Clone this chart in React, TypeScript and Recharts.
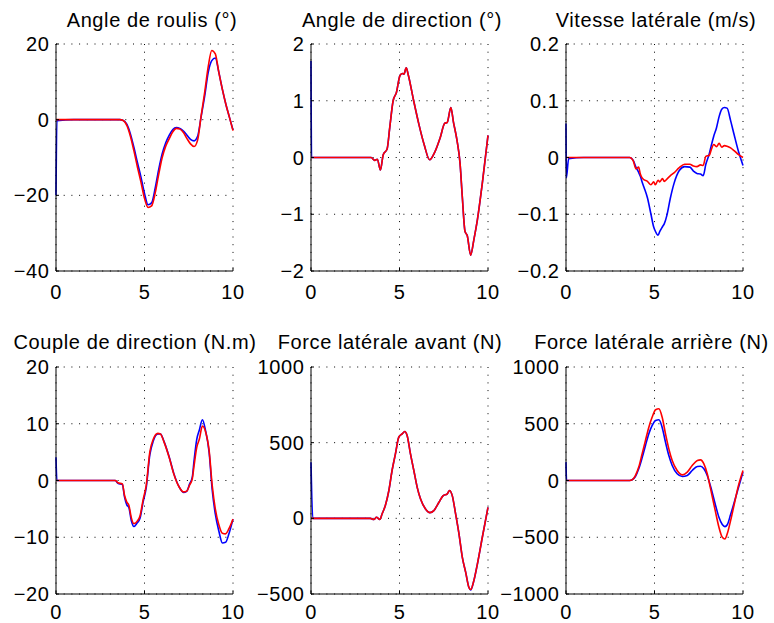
import React from 'react';
import { LineChart, Line, XAxis, YAxis, CartesianGrid } from 'recharts';

const FONT = '"Liberation Sans", Arial, Helvetica, sans-serif';

// ---------- Angle de roulis (°) ----------
const rollT = [0, 0.05, 1, 2, 3, 3.6, 3.8, 4.0, 4.2, 4.4, 4.6, 4.8, 5.0, 5.2, 5.4, 5.6, 5.8, 6.0, 6.2, 6.4, 6.6, 6.8, 7.0, 7.2, 7.4, 7.6, 7.8, 8.0, 8.2, 8.4, 8.6, 8.8, 9.0, 9.2, 9.4, 9.6, 9.8, 10];
const rollBlue = [-20, -0.3, 0, 0, 0, 0, -0.2, -1.2, -3.7, -7.3, -11.3, -15.2, -19.5, -22.5, -22, -18.2, -13.2, -9, -6.1, -4.1, -2.6, -2.1, -2.3, -3, -4.1, -5.2, -5.6, -4.4, 0.8, 6.2, 12.5, 15.6, 16.3, 12.5, 8, 4, 0.6, -2.7];
const rollRed = [0, 0, 0, 0, 0, 0, -0.2, -1.5, -4.3, -8.2, -12.5, -16.5, -20.8, -23.2, -22.8, -19.5, -14.5, -10, -7, -5, -3.2, -2.3, -2.5, -3.4, -5, -6.4, -7.1, -5.4, 1, 7.2, 14, 18.3, 17.4, 12.5, 8, 4, 0.6, -2.9];

// ---------- Angle de direction (°) ----------
const steerT = [0, 0.03, 1, 2, 3, 3.4, 3.6, 3.75, 3.92, 4.08, 4.3, 4.45, 4.64, 4.83, 5.02, 5.15, 5.25, 5.38, 5.5, 5.8, 6.1, 6.4, 6.7, 7.0, 7.3, 7.55, 7.7, 7.9, 8.05, 8.25, 8.42, 8.55, 8.7, 8.83, 9.02, 9.2, 9.4, 9.68, 10];
const steerBlue = [1.7, 0, 0, 0, 0, 0, -0.05, -0.03, -0.22, 0.05, 0.15, 0.53, 1.0, 1.15, 1.44, 1.48, 1.47, 1.58, 1.45, 1.0, 0.58, 0.22, -0.04, 0.1, 0.35, 0.6, 0.62, 0.88, 0.62, 0.3, -0.1, -0.7, -1.3, -1.38, -1.72, -1.45, -1.1, -0.45, 0.39];
const steerRed = [0, 0, 0, 0, 0, 0, -0.05, -0.03, -0.22, 0.05, 0.15, 0.53, 1.0, 1.15, 1.44, 1.48, 1.47, 1.58, 1.45, 1.0, 0.58, 0.22, -0.04, 0.1, 0.35, 0.6, 0.62, 0.88, 0.62, 0.3, -0.1, -0.7, -1.3, -1.38, -1.72, -1.45, -1.1, -0.45, 0.39];

// ---------- Vitesse latérale (m/s) ----------
const velT = [0, 0.02, 0.15, 1, 2, 3, 3.6, 3.8, 3.95, 4.1, 4.2, 4.3, 4.4, 4.6, 4.8, 4.95, 5.05, 5.2, 5.3, 5.45, 5.55, 5.7, 5.9, 6.1, 6.4, 6.7, 7.0, 7.2, 7.4, 7.6, 7.75, 7.9, 8.1, 8.2, 8.35, 8.5, 8.65, 8.8, 8.95, 9.1, 9.3, 9.5, 9.75, 10];
const velBlue = [0.06, -0.036, -0.002, 0, 0, 0, 0, -0.005, -0.017, -0.026, -0.033, -0.043, -0.052, -0.071, -0.1, -0.122, -0.13, -0.137, -0.13, -0.122, -0.117, -0.102, -0.071, -0.046, -0.023, -0.016, -0.017, -0.024, -0.028, -0.029, -0.032, -0.012, 0.007, 0.02, 0.038, 0.052, 0.072, 0.085, 0.088, 0.087, 0.065, 0.04, 0.01, -0.014];
const velRed = [0, 0, 0, 0, 0, 0, 0, -0.006, -0.02, -0.017, -0.029, -0.036, -0.039, -0.042, -0.048, -0.043, -0.048, -0.04, -0.043, -0.037, -0.042, -0.038, -0.032, -0.027, -0.018, -0.012, -0.012, -0.015, -0.016, -0.013, -0.014, 0.002, 0.004, 0.013, 0.023, 0.019, 0.025, 0.018, 0.021, 0.02, 0.017, 0.012, 0.005, 0];

// ---------- Couple de direction (N.m) ----------
const torqueT = [0, 0.05, 1, 2, 3, 3.35, 3.5, 3.75, 3.87, 4.0, 4.12, 4.25, 4.4, 4.58, 4.75, 4.92, 5.1, 5.3, 5.5, 5.75, 5.9, 6.1, 6.4, 6.65, 6.95, 7.2, 7.38, 7.55, 7.7, 7.8, 7.95, 8.1, 8.27, 8.45, 8.65, 8.83, 9.0, 9.2, 9.4, 9.58, 9.77, 10];
const torqueBlue = [4.1, 0, 0, 0, 0, 0, -0.5, -0.7, -2.9, -4.3, -4.8, -7, -8.1, -7.5, -6.6, -3.8, -1.2, 4.5, 7, 8.2, 8.2, 6.9, 4.1, 1.3, -1.1, -2.1, -1.9, -0.6, 0.6, 3.5, 7.2, 8.9, 10.7, 8.8, 5, -1.8, -5.9, -8.9, -11, -10.9, -9.4, -6.8];
const torqueRed = [0, 0, 0, 0, 0, 0, -0.4, -0.6, -2.6, -3.8, -4.4, -6.5, -7.6, -7.2, -6.2, -3.4, -0.8, 5, 7.3, 8.3, 8.2, 6.8, 4.0, 1.2, -1.1, -2.0, -1.9, -0.8, 0.3, 2.6, 5.8, 7.3, 9.6, 8.6, 5.3, -1, -5, -7.8, -9.3, -9.4, -8.5, -6.8];

// ---------- Force latérale avant (N) ----------
const frontT = [0, 0.1, 1, 2, 3, 3.36, 3.55, 3.7, 3.89, 4.02, 4.2, 4.4, 4.58, 4.77, 4.96, 5.15, 5.3, 5.43, 5.62, 5.81, 6.0, 6.19, 6.47, 6.72, 6.94, 7.23, 7.47, 7.7, 7.83, 7.98, 8.17, 8.36, 8.55, 8.74, 8.92, 9.02, 9.2, 9.4, 9.68, 10];
const frontBlue = [371, 0, 0, 0, 0, 0, -8, 7, -8, 30, 85, 184, 316, 426, 536, 558, 574, 547, 426, 316, 205, 128, 62, 38, 51, 106, 150, 162, 184, 150, 29, -103, -258, -357, -456, -474, -412, -302, -125, 73];
const frontRed = [0, 0, 0, 0, 0, 0, -8, 7, -8, 30, 85, 184, 316, 426, 536, 558, 574, 547, 426, 316, 205, 128, 62, 38, 51, 106, 150, 162, 184, 150, 29, -103, -258, -357, -456, -470, -412, -302, -125, 73];

// ---------- Force latérale arrière (N) ----------
const rearT = [0, 0.03, 0.3, 1, 2, 3, 3.6, 3.74, 3.92, 4.11, 4.3, 4.49, 4.68, 4.87, 5.06, 5.25, 5.43, 5.62, 5.81, 6.0, 6.28, 6.57, 6.85, 7.13, 7.42, 7.6, 7.79, 7.98, 8.17, 8.45, 8.64, 8.83, 8.98, 9.11, 9.3, 9.49, 9.72, 10];
const rearBlue = [162, 0, 0, 0, 0, 0, 0, 6, 35, 103, 200, 309, 412, 485, 529, 535, 470, 338, 220, 132, 59, 35, 44, 88, 124, 126, 103, 44, -53, -220, -324, -388, -406, -390, -300, -200, -75, 74];
const rearRed = [0, 0, 0, 0, 0, 0, 0, 6, 44, 118, 235, 353, 470, 559, 624, 632, 559, 412, 279, 176, 88, 50, 74, 132, 176, 182, 147, 59, -74, -279, -412, -500, -515, -470, -353, -220, -59, 88];

const xTicks = [0, 5, 10];

const titles = [
  'Angle de roulis (°)',
  'Angle de direction (°)',
  'Vitesse latérale (m/s)',
  'Couple de direction (N.m)',
  'Force latérale avant (N)',
  'Force latérale arrière (N)',
];

const yDomains: [number, number][] = [[-40, 20], [-2, 2], [-0.2, 0.2], [-20, 20], [-500, 1000], [-1000, 1000]];
const yTicks = [
  [-40, -20, 0, 20],
  [-2, -1, 0, 1, 2],
  [-0.2, -0.1, 0, 0.1, 0.2],
  [-20, -10, 0, 10, 20],
  [-500, 0, 500, 1000],
  [-1000, -500, 0, 500, 1000],
];

const series = [
  { t: rollT, blue: rollBlue, red: rollRed },
  { t: steerT, blue: steerBlue, red: steerRed },
  { t: velT, blue: velBlue, red: velRed },
  { t: torqueT, blue: torqueBlue, red: torqueRed },
  { t: frontT, blue: frontBlue, red: frontRed },
  { t: rearT, blue: rearBlue, red: rearRed },
];

// layout
const PLOT_X = [55.5, 310.5, 565.5];
const PLOT_Y = [43.5, 366.5];
const PW = 177;
const PH = 227;
const PAD_L = 70;
const PAD_R = 45;
const PAD_T = 40;
const PAD_B = 50;
const X_TICK_MARGIN = [16.3, 13.3];
const TITLE_X = [[152, 402, 656], [135, 390, 651.5]];
const TITLE_Y = [26.7, 349.3];

const fmt = (v: number) => (v < 0 ? '\u2212' + String(Math.abs(v)) : String(v));
const blank = () => '';

function Panel({ idx }: { idx: number }) {
  const row = Math.floor(idx / 3);
  const col = idx % 3;
  const s = series[idx];
  const data = s.t.map((t, i) => ({ t, blue: s.blue[i], red: s.red[i] }));
  const W = PAD_L + PW + PAD_R;
  const H = PAD_T + PH + PAD_B;
  const tickStyle = { fill: '#000', fontSize: 20 };
  return (
    <div style={{ position: 'absolute', left: PLOT_X[col] - PAD_L, top: PLOT_Y[row] - PAD_T, width: W, height: H }}>
      <LineChart width={W} height={H} data={data} margin={{ top: PAD_T, right: PAD_R, left: 0, bottom: 0 }}>
        <CartesianGrid stroke="#000" strokeDasharray="1 6.7" />
        <XAxis
          dataKey="t"
          type="number"
          domain={[0, 10]}
          ticks={xTicks}
          height={PAD_B}
          tickSize={-3}
          tickMargin={X_TICK_MARGIN[row]}
          tick={tickStyle}
          stroke="#000"
          interval={0}
        />
        <XAxis
          xAxisId="top"
          orientation="top"
          dataKey="t"
          type="number"
          domain={[0, 10]}
          ticks={xTicks}
          height={0}
          tickSize={-3}
          tickFormatter={blank}
          stroke="#000"
          interval={0}
        />
        <YAxis
          type="number"
          domain={yDomains[idx]}
          ticks={yTicks[idx]}
          width={PAD_L}
          tickSize={-3}
          tickMargin={9.5}
          tick={tickStyle}
          tickFormatter={fmt}
          stroke="#000"
          interval={0}
        />
        <YAxis
          yAxisId="right"
          orientation="right"
          type="number"
          domain={yDomains[idx]}
          ticks={yTicks[idx]}
          width={0}
          tickSize={-3}
          tickFormatter={blank}
          stroke="#000"
          interval={0}
        />
        <Line dataKey="blue" stroke="#0000ff" strokeWidth={1.6} dot={false} isAnimationActive={false} type="monotone" />
        <Line dataKey="red" stroke="#ff0000" strokeWidth={1.6} dot={false} isAnimationActive={false} type="monotone" />
      </LineChart>
    </div>
  );
}

export default function App() {
  return (
    <div
      style={{
        position: 'absolute',
        left: 0,
        top: 0,
        width: 774,
        height: 623,
        background: '#fff',
        overflow: 'hidden',
        fontFamily: FONT,
        letterSpacing: '0.6px',
      }}
    >
      {[0, 1, 2, 3, 4, 5].map((i) => (
        <Panel key={i} idx={i} />
      ))}
      <svg width={774} height={623} style={{ position: 'absolute', left: 0, top: 0, pointerEvents: 'none' }}>
        {titles.map((tt, i) => (
          <text
            key={tt}
            x={TITLE_X[Math.floor(i / 3)][i % 3]}
            y={TITLE_Y[Math.floor(i / 3)]}
            textAnchor="middle"
            fontSize={20}
            fill="#000"
          >
            {tt}
          </text>
        ))}
      </svg>
    </div>
  );
}
